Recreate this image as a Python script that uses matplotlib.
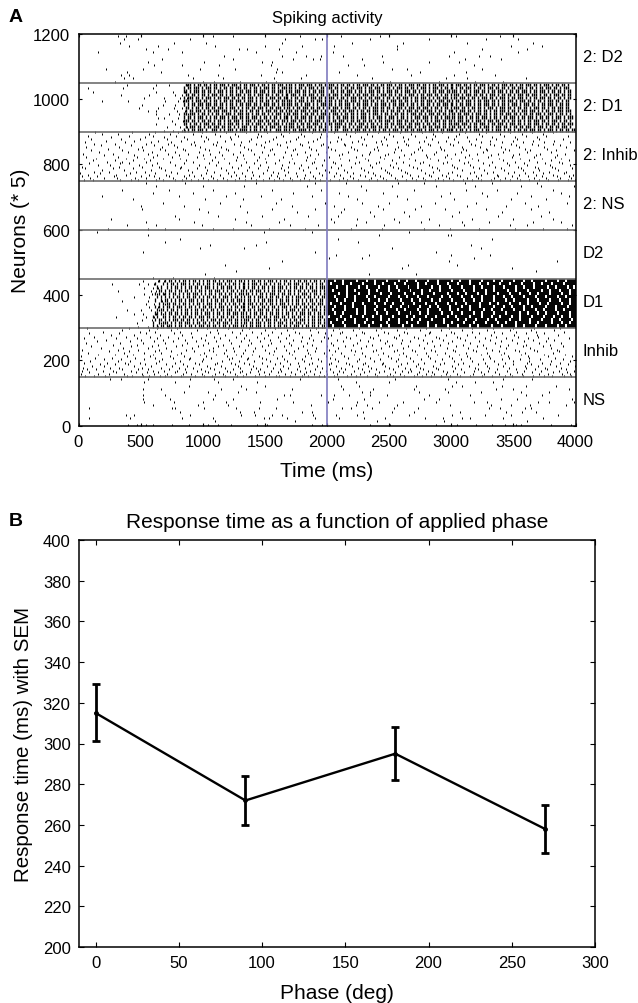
import numpy as np
import matplotlib
matplotlib.use('Agg')
import matplotlib.pyplot as plt

plt.rcParams['font.family'] = ['Liberation Sans', 'DejaVu Sans']

# panel B values
phase = [0, 90, 180, 270]
resp = [315, 272, 295, 258]
resp_up = [329, 284, 308, 270]
resp_lo = [301, 260, 282, 246]

band_names = ['NS', 'Inhib', 'D1', 'D2', '2: NS', '2: Inhib', '2: D1', '2: D2']
band_edges = [150, 300, 450, 600, 750, 900, 1050]
stim_time = 2000

# spike times (ms), one list per 10 neuron row, bottom row first
ns_rows = [
 [395,470,540,600,750,890,1040,1120,1230,1440,1520,1880,1960,2350,2510,2880,3050,3200,3330,3430,3520,3565,3800,3960],
 [1100,1740,2400,2940,3610],
 [87,412,830,1080,1490,1530,1680,1900,2100,2300,2470,2790,2930,3090,3150,3420,3740],
 [380,445,900,1310,1420,1560,1640,1890,2070,2240,2660,3010,3270,3480,3860],
 [820,1300,1410,1800,1880,2290,2520,2700,3070,3440,3570,3680],
 [87,750,780,1010,1270,1450,1590,2120,2190,2360,2540,2730,3300,3390,3590,3640],
 [600,960,1200,1870,2230,2320,2560,2990,3320,3480,3630,3920],
 [530,770,1000,1190,1460,1730,2010,2240,2420,2610,2880,3180,3290,3700,3790,3990],
 [520,740,1080,1240,1600,2050,2300,2780,2900,3400,3530,3970],
 [520,700,1100,1650,1700,1950,2060,2180,2350,2480,2820,3150,3600,3730],
 [850,1040,1280,1430,2280,2350,2740,2970,3240,3560,3790],
 [520,660,1150,1350,1720,2130,2370,2700,2950,3360,3500,3950],
 [890,1310,1500,2110,2260,2720,3010,3090,3410,3600,3840],
 [525,780,1120,1440,2230,2500,3040,3190,3340],
 [250,340,560,900,1090,1240,1780,2090,2550,2970,3420,3650],
]
# 5 neuron rows
inhib_rows = [
 [55,122,214,388,431,516,571,655,698,741,822,936,1011,1074,1183,1275,1326,1418,1503,1588,1612,1705,1796,1849,1932,1977,2056,2163,2231,2320,2404,2479,2528,2619,2702,2761,2835,2918,2991,3067,3152,3248,3327,3431,3486,3578,3659,3744,3813,3908,3965],
 [18,160,242,365,512,604,713,842,905,997,1102,1166,1258,1347,1456,1537,1664,1739,1812,1893,2003,2082,2194,2267,2383,2510,2586,2727,2798,2864,2957,3046,3176,3263,3388,3475,3569,3707,3782,3891,3952],
 [83,305,463,548,637,780,866,1042,1134,1216,1298,1380,1492,1609,1710,1835,1946,2049,2125,2296,2418,2546,2648,2739,2847,2969,3104,3236,3351,3527,3646,3816,3934],
 [25,194,278,421,598,689,794,951,1020,1199,1319,1441,1552,1633,1780,1866,1988,2098,2215,2337,2461,2601,2680,2810,2932,3016,3183,3296,3445,3587,3725,3864,3987],
 [66,141,350,477,562,729,855,982,1089,1243,1390,1463,1620,1755,1907,2022,2147,2278,2394,2533,2664,2775,2894,3075,3218,3366,3518,3672,3771,3925],
 [38,252,329,508,668,807,920,1057,1176,1303,1429,1565,1690,1826,1961,2116,2251,2351,2496,2627,2746,2881,3028,3195,3305,3462,3604,3758,3880],
 [112,206,444,585,752,877,1035,1146,1281,1407,1518,1647,1778,1920,2073,2204,2327,2470,2574,2713,2854,3005,3139,3291,3419,3595,3697,3846,3995],
 [175,296,398,534,707,838,966,1096,1262,1375,1578,1703,1853,2014,2180,2289,2441,2593,2735,2908,3057,3212,3376,3501,3640,3791,3941],
 [47,233,372,491,623,779,941,1116,1224,1336,1479,1625,1764,1883,2036,2155,2309,2452,2641,2783,2944,3097,3268,3434,3611,3734,3873],
 [91,318,415,646,815,993,1152,1288,1412,1544,1682,1815,1954,2091,2241,2376,2559,2694,2868,3021,3163,3342,3493,3622,3802,3958],
 [204,341,527,676,886,1005,1208,1354,1511,1657,1796,1928,2064,2258,2429,2570,2754,2926,3082,3254,3409,3556,3718,3896],
 [129,268,453,612,764,898,1066,1234,1366,1476,1596,1743,1874,2027,2172,2345,2515,2667,2827,3003,3147,3315,3467,3628,3839],
 [22,387,579,733,849,1027,1194,1311,1449,1641,1823,1993,2137,2302,2488,2634,2815,2981,3124,3301,3458,3615,3776,3970],
 [156,290,438,601,793,974,1109,1270,1398,1563,1719,1860,2042,2218,2412,2578,2722,2889,3061,3239,3398,3564,3749,3917],
 [73,363,526,664,826,1014,1169,1325,1534,1698,1844,1979,2110,2284,2447,2615,2796,2952,3116,3284,3424,3593,3821],
 [244,405,619,745,927,1079,1252,1404,1571,1731,1901,2068,2226,2368,2541,2705,2872,3034,3202,3382,3547,3688,3866],
 [32,316,482,651,869,1049,1189,1340,1498,1674,1838,2018,2193,2397,2565,2688,2839,3013,3178,3329,3512,3667,3851],
 [183,356,557,702,912,1083,1247,1421,1586,1768,1915,2085,2273,2436,2610,2777,2965,3131,3277,3441,3631,3804],
 [104,424,590,785,958,1125,1293,1473,1654,1806,1998,2142,2314,2503,2652,2861,3039,3207,3395,3575,3737,3902],
 [279,469,637,831,1002,1159,1362,1528,1713,1879,2051,2207,2359,2522,2743,2913,3091,3259,3453,3603,3795],
 [60,338,522,696,873,1040,1228,1386,1548,1692,1839,2031,2243,2466,2599,2806,2975,3154,3354,3530,3710,3885],
 [150,413,607,759,945,1105,1305,1457,1619,1788,1948,2128,2330,2484,2671,2844,3010,3226,3403,3583,3764],
 [224,501,681,858,1018,1212,1370,1541,1723,1890,2077,2262,2423,2604,2769,2936,3108,3309,3491,3655,3830],
 [42,302,467,630,801,986,1140,1331,1489,1667,1856,2008,2186,2373,2552,2731,2898,3069,3271,3437,3614,3778,3947],
 [126,381,575,723,913,1092,1266,1433,1604,1800,1973,2150,2349,2536,2699,2878,3049,3190,3361,3541,3702],
 [263,447,654,834,1028,1180,1351,1522,1697,1870,2033,2237,2408,2583,2786,2960,3128,3323,3508,3690,3858],
 [88,329,540,766,902,1125,1296,1466,1627,1771,1982,2101,2301,2491,2644,2818,3026,3221,3410,3599,3743],
 [196,493,615,816,1060,1236,1393,1559,1745,1926,2120,2283,2455,2622,2831,3000,3170,3347,3522,3681,3909],
 [349,566,744,955,1118,1318,1503,1677,1861,2046,2210,2391,2563,2750,2921,3083,3286,3471,3639,3824],
 [71,408,630,791,1031,1205,1374,1580,1726,1909,2094,2255,2434,2637,2799,2984,3165,3333,3496,3669,3877],
]
d2_rows = [
 [600,760,1090],
 [1020,2340,2720],
 [1270,3680],
 [1530,2600,3490],
 [1180,2650,3050],
 [1640,2980,3850],
 [2020,2280,3180],
 [2070,2340,3310,3000],
 [520,1900,2880],
 [980,1330,3240,2520],
 [1060,1430,3160],
 [700,1510,2250],
 [820,2090,3330],
 [560,2420,2970,3000],
 [150,1490,1880,2660],
]
d1_onset = [
 [480,560,640,720],
 [470,600,660],
 [510,590,650],
 [300,540,610,700],
 [450,520,620,680],
 [390,500,580,650],
 [570,640],
 [540,610,700],
 [350,560,670],
 [450,570,660],
 [530,590,630,690],
 [320,580,620],
 [530,600,640],
 [270,490,560,610],
 [520,640,690],
]
ns2_rows = [
 [240,560,700,1080,1240,1530,1820,2190,2440,2780,2990,3220,3510,3740,3930],
 [390,620,990,1390,1700,1930,2230,2460,2900,3100,3470,3610,3970],
 [540,930,1350,1610,2060,2310,2580,2760,3090,3300,3660,3880],
 [260,810,1260,1650,2030,2240,2540,2820,3170,3500,3820],
 [780,1120,1480,1850,2090,2380,2660,3010,3380,3720],
 [1040,1360,1760,2110,2350,2620,3060,3410,3790],
 [510,970,1560,1900,2140,2450,2710,2950,3280,3640],
 [500,850,1300,1720,2060,2410,2760,3130,3440,3700],
 [680,1140,1590,1980,2280,2500,2870,3200,3590,3930],
 [440,1020,1320,1630,2240,2640,3020,3480,3760],
 [190,810,1190,1470,1880,2170,2560,2920,3290,3640,3950],
 [600,920,1260,1730,2100,2450,2990,3250,3530,3880],
 [350,730,1080,1560,1950,2310,2700,3120,3370,3820],
 [620,1000,1330,1840,2270,2520,2880,3190,3560,3720,3990],
 [540,860,1430,1900,2150,2570,2780,3110,3330,3690],
]
inhib2_rows = [
 [44,113,338,426,482,624,677,773,834,906,958,1044,1117,1193,1256,1342,1427,1488,1573,1646,1722,1785,1853,1941,2024,2093,2162,2247,2336,2402,2474,2561,2637,2713,2792,2866,2934,3016,3094,3165,3243,3318,3394,3472,3556,3624,3706,3781,3857,3936,3992],
 [92,205,312,455,543,651,762,864,1003,1086,1163,1292,1386,1534,1617,1704,1815,1906,1995,2126,2213,2354,2447,2546,2684,2772,2893,2985,3127,3218,3345,3436,3528,3669,3763,3874,3961],
 [28,146,284,503,607,725,847,933,1065,1224,1337,1452,1595,1756,1884,2053,2185,2303,2426,2605,2736,2838,2954,3071,3196,3374,3492,3617,3728,3848,3947],
 [74,303,385,566,706,892,984,1137,1268,1405,1551,1663,1826,1963,2107,2265,2386,2515,2668,2817,2923,3047,3238,3367,3545,3685,3816,3982],
 [16,172,414,615,796,1027,1205,1316,1483,1604,1747,1936,2074,2206,2371,2495,2643,2787,2972,3153,3284,3456,3593,3736,3906],
 [125,246,462,537,742,916,1093,1248,1397,1563,1686,1867,2015,2158,2327,2486,2628,2853,3006,3184,3338,3507,3656,3784,3923],
 [193,367,586,693,885,1036,1184,1353,1516,1654,1806,1984,2137,2295,2463,2596,2757,2905,3086,3265,3428,3574,3704,3863],
 [53,274,436,664,813,955,1145,1282,1447,1626,1773,1915,2085,2273,2438,2575,2726,2884,3045,3226,3403,3565,3696,3836,3975],
 [31,326,513,645,826,1016,1236,1374,1528,1684,1847,2036,2197,2365,2534,2694,2845,3026,3174,3356,3538,3674,3813],
 [154,257,484,594,775,973,1106,1307,1464,1636,1793,1958,2116,2343,2507,2656,2818,3003,3147,3304,3466,3607,3792,3953],
 [84,336,405,628,848,1053,1214,1416,1585,1736,1876,2067,2228,2396,2558,2745,2937,3104,3257,3447,3586,3754,3893],
 [226,354,547,736,924,1126,1347,1506,1693,1896,2045,2256,2417,2614,2776,2963,3134,3326,3514,3687,3868],
 [115,293,441,574,867,1075,1264,1436,1612,1834,1976,2176,2326,2527,2707,2896,3063,3213,3416,3627,3806,3944],
 [142,384,527,684,817,1007,1173,1328,1497,1716,1903,2106,2308,2455,2663,2825,2998,3168,3383,3553,3727,3887],
 [64,316,473,603,754,952,1096,1278,1453,1648,1837,2013,2234,2429,2583,2803,2946,3113,3297,3486,3664,3833],
 [207,450,632,809,1000,1157,1322,1524,1708,1862,2096,2279,2467,2619,2796,2969,3142,3322,3501,3679,3849],
 [35,278,556,718,882,1062,1241,1409,1575,1759,1928,2122,2338,2491,2676,2860,3032,3209,3375,3542,3715,3916],
 [167,398,591,777,968,1131,1301,1476,1659,1822,1989,2168,2349,2539,2701,2876,3076,3252,3420,3612,3799],
 [98,352,521,699,855,1048,1203,1388,1542,1728,1911,2062,2243,2411,2598,2768,2941,3119,3290,3461,3634,3840,3986],
 [240,477,655,838,1021,1190,1361,1558,1744,1873,2030,2219,2378,2551,2730,2917,3098,3276,3435,3597,3771],
 [61,329,509,670,791,979,1150,1332,1491,1677,1854,2006,2190,2404,2569,2752,2910,3085,3231,3398,3549,3747,3921],
 [181,419,611,765,941,1110,1296,1467,1620,1802,1949,2143,2315,2481,2648,2831,3012,3190,3348,3522,3700,3878],
 [123,297,543,720,903,1083,1251,1425,1601,1779,1968,2134,2284,2443,2633,2810,2988,3160,3308,3484,3651,3822],
 [49,376,582,745,932,1117,1311,1503,1668,1844,2021,2203,2391,2566,2739,2890,3055,3236,3409,3578,3744,3959],
 [219,444,640,828,1009,1177,1369,1537,1701,1889,2077,2252,2434,2623,2783,2958,3139,3313,3497,3660,3826],
 [101,342,497,712,874,1039,1229,1392,1569,1751,1922,2113,2299,2474,2651,2842,3023,3199,3363,3533,3708,3900],
 [262,533,688,852,1024,1219,1438,1590,1767,1944,2089,2272,2458,2610,2800,2977,3129,3330,3512,3692],
 [77,407,600,782,987,1139,1283,1470,1642,1816,1999,2182,2360,2529,2712,2868,3036,3246,3426,3602,3765,3938],
 [188,320,565,737,919,1098,1259,1443,1629,1787,1955,2150,2320,2500,2680,2855,3066,3224,3390,3568,3739],
 [135,431,619,804,995,1187,1350,1519,1695,1880,2056,2224,2407,2587,2764,2927,3108,3282,3474,3646,3818],
]
d2_2_rows = [
 [290,1000,1090,1300,1510,1590,2510,2900,3190,3420],
 [370,440,920,1160,1570,1790,2360,2960,3130,3600],
 [340,410,880,1120,1470,1830,2240,2680,3020,3350],
 [390,660,1590,1640,2100,2750,3120],
 [220,520,980,1260,1600,2520,2640,3250],
 [610,830,1130,1550,2170,2300,3180],
 [560,1010,1480,1560,2450,2820,3060],
 [670,1240,1730,1890,1940,2280,3110,3400],
 [1170,1640,1830,1950,2130,2440,2980,3220,3310],
 [160,600,830,1430,1750,2050,3020,3540],
 [540,720,1360,1290,1610,2560,3250,3610],
 [410,640,1100,1500,1800,2060,2560,3480,3730],
 [330,770,1030,1640,2200,2610,3130,3660],
 [370,480,900,1660,1900,1960,2350,2820,3280,3540],
 [320,380,1080,1240,1780,2110,2430,3040,3390],
]
d1_2_onset = [
 [690,760,830,860],
 [710,820,870],
 [620,780,850],
 [750,840],
 [640,690,800,880],
 [620,730,810,880],
 [560,620,790,860],
 [490,640,770,830],
 [510,680,780,850],
 [190,400,700,800,840],
 [530,690,820,870],
 [340,570,780,830],
 [120,620,760,860],
 [80,360,600,850],
 [390,620,730,870],
]

# dense bands, 10 neurons per row, one char per 16 ms, bottom row first
d1_2_dense = [
"#.#.##.###.#..###.#.#.###.#.####.#.##.#.##.#..###.##.#.##.####.#.##.#.###.#.##..###.#.###.##.#.##.#.##.#.###.#.##.##.###.#.###.#.##.####.#.##.#.#.###.#.##.#.###.#.##.#.##.##.###.##.#.###.#.##.##.##",
".#.###.##.#.##.###.##.##.#.#.###.#.##.##.#.###.##.##.###.##.#.###.#.##.##.#.###.##.#.#.###.##.###.##.##.#.#.###.###.#.#.##.##.###.##.#.##.##.#.##.##.#.###.#.###.##.#.##.##.###.#.###.#.##.##.###.#.",
"##.#.##.#.###.##.##.#.###.##.#.##.#.###.#.##.###.#.#.###.#.##.##.###.#.#.##.####.#.##.#.###.#.##.#.#.##.##.###.#.##.###.#.##.##.#.##.##.###.###.#.##.###.#.##.###.#.###.##.#.##.###.#.##.##.#.##.###",
"###.##.#.##.##.#.##.#.##.###.#.###.#.###.##.##.#.##.#.###.##.#.##.###.#.##.##.###.#.##.##.##.##.#.##.###.#.###.##.##.#.#.##.#.###.##.##.#.###.##.#.###.#.###.##.##.#.##.##.#.##.###.##.#.###.#.##.#",
"#.##.#.###.#.#.##.###.#.###.##.##.###.#.##.#.##.#.###.#.##.###.##.#.###.##.#.##.###.##.#.###.#.#.###.#.###.#.##.#.#.###.###.#.##.#.###.##.###.#.##.##.###.#.##.#.##.###.#.##.###.#.##.##.#.###.#.###",
"##.###.#.##.#.#.##.#.###.#.###.##.#.##.##.#.#.###.#.##.###.#.##.##.#.###.#.###.#.##.##.#.###.#.###.#.##.#.##.##.#.###.##.#.###.##.##.#.##.##.###.#.###.##.#.##.##.###.##.#.##.##.###.#.###.#.##.#.#",
".#.##.###.#.##.###.###.#.##.##.#.##.##.#.###.##.##.#.##.##.###.#.###.#.##.###.#.##.###.#.##.##.###.##.#.##.##.#.###.##.##.###.#.##.#.###.#.###.##.#.##.##.#.##.###.#.##.#.###.###.#.#.##.##.###.###",
".##.#.##.#.##.##.###.#.###.#.#.##.##.###.#.##.###.#.##.#.##.###.##.##.#.##.###.#.###.##.#.##.#.###.##.##.#.###.#.###.##.###.#.##.#.##.#.###.##.#.##.##.#.###.#.###.##.#.##.##.#.###.##.#.##.###.##",
"#.#.##.###.###.##.##.#.##.#.##.###.##.#.###.##.#.##.###.##.#.###.#.#.###.##.#.##.###.#.##.###.#.##.###.#.##.###.#.##.#.##.##.#.##.###.##.#.##.###.#.##.###.##.#.##.#.###.#.###.##.#.##.###.#.##.##",
"###.#.###.##.#.##.#.##.##.###.#.###.#.##.##.#.##.##.###.#.###.#.##.###.#.##.#.##.##.###.#.###.##.#.##.#.###.##.##.#.##.##.###.#.###.##.#.##.#.###.#.##.###.##.#.##.###.#.###.##.#.##.#.###.##.#.##",
"#.###.##.#.###.#.##.###.##.#.##.###.#.##.#.###.##.###.#.##.##.#.###.##.#.###.#.##.#.###.##.#.##.###.#.##.#.##.###.#.##.###.#.#.##.###.#.##.###.#.##.#.###.##.#.###.#.##.###.#.#.##.###.##.#.##.#.##.",
".##.##.#.##.#.###.##.#.##.###.#.##.#.###.##.#.##.#.##.###.#.##.###.#.##.##.###.#.###.#.##.###.##.#.###.##.#.##.#.###.#.##.###.##.#.##.#.###.#.###.##.##.#.###.#.##.##.#.###.##.###.#.##.#.###.##.##",
"##.#.###.##.##.#.###.#.##.#.##.###.##.###.#.##.###.#.##.###.##.#.##.###.#.##.#.##.###.#.##.#.###.##.#.###.##.#.###.##.#.##.#.##.###.##.###.#.##.#.###.##.#.##.###.#.##.##.###.#.##.###.#.##.##.#.##",
"#.##.###.#.###.##.#.##.##.###.##.#.##.#.###.##.#.###.##.#.##.#.###.#.##.###.##.#.##.##.###.#.##.###.#.##.#.###.##.##.#.###.#.###.#.##.##.#.##.###.#.##.#.###.##.##.#.##.###.#.##.#.##.###.##.#.###.",
".###.#.##.##.#.##.###.#.###.#.##.###.#.##.#.##.###.#.##.#.###.###.#.##.#.###.#.##.##.#.##.###.##.#.##.###.#.##.#.###.##.##.#.##.###.#.##.###.##.#.##.###.#.##.#.###.##.#.##.###.##.#.###.#.##.##.#.",
]
d1_dense_early = [
"#.#.##.###.#.##.#.##.#.###.##.##.#.##.#.###.##.#.##.###.#.##.#.##.##.#.###.#.##.##.#.##.",
"#..#.###.#.#.##.###.#.##.##.#.#.##.###.#.##.#.##.##.###.#.##.#.###.#.##.###.#.#.##.##.###",
".#.##.#.#.###.##.##.#.#.##.#.###.##.#.##.##.#.###.#.##.#.###.##.#.##.#.##.###.#.##.##.#.#",
"#.#..##.#.##.#.##.##.#.###.##.#.#.##.#.##.#.##.###.#.##.##.#.###.##.#.##.##.#.#.##.###.#.",
".##.#.#.##.##.#.##.#.##.#.###.#.##.#.##.###.##.#.#.##.##.#.##.##.#.##.#.#.###.##.#.##.#.#",
"..#.##.#.##.#.#.##.#.##.##.#.##.#.##.###.#.#.##.##.#.###.##.#.##.#.#.###.#.##.#.###.#.##.",
".#.#.#.##.#.###.#.##.#.#.##.##.#.###.#.#.##.###.#.##.#.##.#.##.#.###.#.##.#.##.##.#.#.##.",
"...#.#.##.##.#.##.#.#.##.#.###.#.##.#.#.##.#.##.###.#.##.#.##.#.###.#.#.##.##.#.##.###.#.",
".#..#.##.#.#.##.#.###.#.##.#.#.##.##.#.##.###.#.##.#.#.##.###.#.##.##.#.##.#.#.##.#.##.#.",
"..#.#.#.#.#.##.#.##.##.#.#.##.##.#.###.#.##.#.#.##.#.###.#.##.##.#.##.#.###.#.##.#.#.##.#",
".#.#.##.#.##.#.#.##.###.#.#.##.#.##.#.##.#.###.##.#.#.##.#.###.#.##.##.#.#.###.#.##.#.##.",
"...##.#.##.#.##.##.#.#.##.#.##.###.#.#.##.#.##.#.##.###.#.#.##.##.#.##.#.##.#.#.###.#.#.#",
"..#.#..#.#.##.#.#.##.##.#.###.#.#.##.###.#.#.##.#.##.#.##.#.##.###.#.#.##.##.#.##.#.###.#",
".#...#.#.##.#.###.#.#.##.#.##.#.###.#.#.##.#.##.#.###.#.##.#.#.##.#.##.###.#.##.#.#.##.#.",
"...#..#.##.#.#.##.#.##.#.#.##.##.#.#.###.#.##.#.#.##.##.#.###.#.#.##.#.#.##.##.#.##.#.#.#",
]
d1_dense_late = [
"###.#####.######.####.#####.###.######.####.#######.###.#####.####.#####.###.######.####.######.###.#####.####.#####.###.#####",
"##.#####.#####.####.###.######.#####.###.#####.####.#######.###.#####.####.#####.#####.###.####.######.###.######.####.###.###",
"#####.###.####.#####.######.###.####.######.###.#####.#####.######.###.####.#####.###.######.####.####.#####.####.###.#####.##",
"#.#####.####.#####.####.###.#####.######.###.#####.####.#####.###.######.#####.####.###.#####.###.#####.#####.####.###.###.###",
"####.###.######.###.#####.####.#####.#####.####.###.######.####.####.#####.###.#####.#####.######.###.####.###.#####.#####.###",
"###.#####.#####.###.####.####.#####.###.######.####.#####.####.###.#####.######.###.####.#####.####.#####.###.#####.###.######",
"####.####.###.#####.#####.######.####.###.#####.####.###.#####.#####.###.####.######.####.###.#####.###.######.####.#####.####",
"##.####.#####.####.#####.####.###.####.#####.#####.####.#####.###.####.######.####.###.#####.####.###.#####.###.######.###.###",
"#####.###.####.######.####.###.######.#####.###.#####.###.#####.#####.####.###.#####.#####.###.######.####.#####.####.####.####",
"####.#####.###.#####.###.######.####.###.#####.####.######.###.#####.####.####.#####.####.###.#####.#####.####.#####.###.#####",
"######.###.#####.####.#####.####.######.####.###.#####.######.####.###.#####.###.#####.#####.####.####.###.#####.#####.###.####",
"###.######.###.######.###.#####.####.#####.#####.###.####.#####.#####.####.#####.###.######.###.#####.######.###.####.####.####",
"#####.####.#####.###.#####.####.###.#####.####.######.###.####.#####.#####.###.#####.####.#####.###.####.######.###.#####.##.##",
"##.#####.###.#####.#####.###.#####.####.######.###.#####.####.####.#####.####.###.#####.####.#####.#####.###.####.#####.#######",
"####.###.######.####.###.#####.#####.###.####.#####.####.######.###.####.#####.#####.###.#####.####.###.######.#####.###.######",
]


def draw_rows(ax, rows, y0, h=10, tick=6, lw=0.72):
    # sparse rows of spike times
    for r, times in enumerate(rows):
        ax.vlines(times, y0 + r * h, y0 + r * h + tick, color='k', lw=lw)


def draw_dense(ax, rows, t0, y0, dt=16, h=10, lw=0.9):
    for r, row in enumerate(rows):
        times = [t0 + c * dt for c, ch in enumerate(row) if ch == '#']
        ax.vlines(times, y0 + r * h, y0 + (r + 1) * h, color='k', lw=lw)


fig = plt.figure(figsize=(6.38, 10.04), dpi=100)
W, H = 638.0, 1004.0

# panel A
ax = fig.add_axes([78.5 / W, 1 - 426.7 / H, 497 / W, 392 / H])
draw_rows(ax, ns_rows, 0)
draw_rows(ax, inhib_rows, 150, h=5)
draw_rows(ax, d2_rows, 450)
draw_rows(ax, d1_onset, 300)
draw_dense(ax, d1_dense_early, 600, 300)
draw_dense(ax, d1_dense_late, 2000, 300, lw=1.4)
draw_rows(ax, ns2_rows, 600)
draw_rows(ax, inhib2_rows, 750, h=5)
draw_rows(ax, d1_2_onset, 900)
draw_dense(ax, d1_2_dense, 850, 900, lw=1.0)
draw_rows(ax, d2_2_rows, 1050)
for e in band_edges:
    ax.axhline(e, color='#6e6e6e', lw=1.2)
ax.axvline(stim_time, color='#7f7abf', lw=1.2)
ax.set_xlim(0, 4000)
ax.set_ylim(0, 1200)
ax.set_xticks(range(0, 4001, 500))
ax.set_yticks(range(0, 1201, 200))
ax.tick_params(direction='in', top=True, right=True, length=2.5, width=0.8, labelsize=12, pad=6)
for s in ax.spines.values():
    s.set_linewidth(1.1)
ax.set_title('Spiking activity', fontsize=12, pad=8.5)
ax.set_xlabel('Time (ms)', fontsize=15, labelpad=8.5)
ax.set_ylabel('Neurons (* 5)', fontsize=15, labelpad=2)
for i, name in enumerate(band_names):
    ax.text(4060, 75 + 150 * i + 5, name, fontsize=12, va='center', ha='left')

# panel B
bx = fig.add_axes([79 / W, 1 - 948 / H, 516 / W, 407 / H])
yerr = [np.array(resp) - np.array(resp_lo), np.array(resp_up) - np.array(resp)]
bx.errorbar(phase, resp, yerr=yerr, color='k', lw=1.7, elinewidth=2, capsize=3,
            capthick=2, marker='o', ms=2.5)
bx.set_xlim(-10, 300)
bx.set_ylim(200, 400)
bx.set_xticks(range(0, 301, 50))
bx.set_yticks(range(200, 401, 20))
bx.tick_params(direction='in', top=True, right=True, length=3.6, width=0.8, labelsize=12, pad=6)
for s in bx.spines.values():
    s.set_linewidth(1.1)
bx.set_title('Response time as a function of applied phase', fontsize=15, pad=9)
bx.set_xlabel('Phase (deg)', fontsize=15, labelpad=9)
bx.set_ylabel('Response time (ms) with SEM', fontsize=14.8, labelpad=7)

fig.text(9 / W, 1 - 18 / H, 'A', fontsize=14, fontweight='bold', va='center')
fig.text(9 / W, 1 - 521 / H, 'B', fontsize=14, fontweight='bold', va='center')

fig.savefig('out.png', dpi=100)
